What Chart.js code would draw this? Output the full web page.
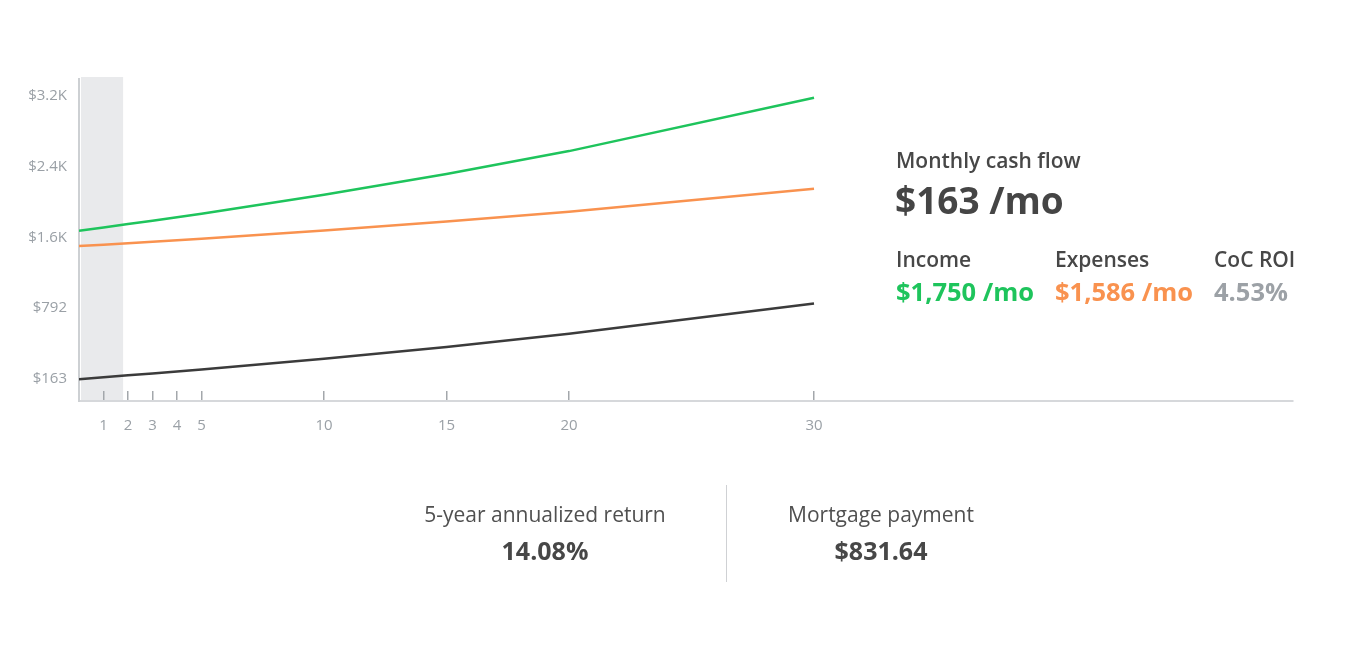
<!DOCTYPE html>
<html>
<head>
<meta charset="utf-8">
<script src="https://cdn.jsdelivr.net/npm/chart.js@4.4.1/dist/chart.umd.min.js"></script>
<style>
  html, body { margin: 0; padding: 0; background: #fff; }
  body { width: 1366px; height: 661px; position: relative; overflow: hidden; font-family: "Open Sans", sans-serif; color: #444; }
  #wrap { position: absolute; left: 0; top: 0; width: 1366px; height: 661px; }
  .t { position: absolute; white-space: nowrap; line-height: 1; }
  .lbl { font-size: 21px; font-weight: 600; color: #474747; }
  .val { font-size: 25.5px; font-weight: 700; }
  .c { transform: translateX(-50%); }
  #divider { position: absolute; left: 726px; top: 485px; width: 1px; height: 97px; background: #cfd1d4; }
</style>
</head>
<body>
<div id="wrap"><canvas id="graficoCashFlow" width="1366" height="661"></canvas></div>

<div class="t lbl" style="left:896px; top:150px;">Monthly cash flow</div>
<div class="t" style="left:895px; top:181px; font-size:37px; font-weight:700; color:#454545;">$163 /mo</div>

<div class="t lbl" style="left:896px; top:249px;">Income</div>
<div class="t lbl" style="left:1055px; top:249px;">Expenses</div>
<div class="t lbl" style="left:1214px; top:249px;">CoC ROI</div>
<div class="t val" style="left:896px; top:279px; color:#1ec45c;">$1,750 /mo</div>
<div class="t val" style="left:1055px; top:279px; color:#f9924f;">$1,586 /mo</div>
<div class="t val" style="left:1214px; top:279px; color:#9ca1a6;">4.53%</div>

<div class="t c" style="left:545px; top:504px; font-size:21px; color:#505050;">5-year annualized return</div>
<div class="t c" style="left:545px; top:538px; font-size:25px; font-weight:700; color:#474747;">14.08%</div>
<div id="divider"></div>
<div class="t c" style="left:881px; top:504px; font-size:21px; color:#505050;">Mortgage payment</div>
<div class="t c" style="left:881px; top:538px; font-size:25px; font-weight:700; color:#474747;">$831.64</div>

<script>
// Anos e valores mensais
const anos = [0, 1, 2, 3, 4, 5, 10, 15, 20, 30];
const income = [1750, 1785, 1821, 1857, 1894, 1932, 2133, 2355, 2600, 3170];
const expenses = [1586, 1601, 1616, 1632, 1648, 1665, 1751, 1847, 1952, 2198];
const cashFlow = [163, 184, 205, 225, 246, 267, 382, 508, 648, 972];

// Marcas do eixo X
const ticksX = [1, 2, 3, 4, 5, 10, 15, 20, 30];
// Eixo Y: posições e textos das etiquetas
const ticksYValores = [170, 925, 1680, 2435, 3190];
const ticksYLabels = ['$163', '$792', '$1.6K', '$2.4K', '$3.2K'];

// Faixa cinzenta do ano atual
const faixaDestaque = { inicio: 0, fim: 1.8 };

const pluginFaixa = {
  id: 'faixa',
  beforeDraw(chart) {
    const { ctx, chartArea, scales } = chart;
    const x0 = scales.x.getPixelForValue(faixaDestaque.inicio) + 2;
    const x1 = scales.x.getPixelForValue(faixaDestaque.fim);
    ctx.save();
    ctx.fillStyle = '#e9eaec';
    ctx.fillRect(x0, chartArea.top - 2, x1 - x0, chartArea.bottom - chartArea.top + 2);
    ctx.restore();
  }
};

function serie(valores) {
  return valores.map((v, i) => ({ x: anos[i], y: v }));
}

window.addEventListener('DOMContentLoaded', () => {
  const ctx = document.getElementById('graficoCashFlow').getContext('2d');

  new Chart(ctx, {
    type: 'line',
    data: {
      datasets: [
        { label: 'Income', data: serie(income), borderColor: '#1ec45c', borderWidth: 2.5 },
        { label: 'Expenses', data: serie(expenses), borderColor: '#f9924f', borderWidth: 2.5 },
        { label: 'Cash flow', data: serie(cashFlow), borderColor: '#3b3b3b', borderWidth: 2.5 }
      ]
    },
    options: {
      responsive: false,
      animation: false,
      events: [],
      layout: { padding: { top: 79, right: 73, left: 0, bottom: 220 } },
      elements: { point: { radius: 0 }, line: { tension: 0 } },
      plugins: { legend: { display: false }, tooltip: { enabled: false } },
      scales: {
        x: {
          type: 'linear',
          min: 0,
          max: 49.55,
          afterFit: s => { s.height = 40; },
          afterBuildTicks: s => { s.ticks = ticksX.map(v => ({ value: v })); },
          grid: { display: true, drawOnChartArea: false, drawTicks: true, tickLength: -10, color: '#a3a7ab', lineWidth: 1.5 },
          border: { display: true, color: '#d6d8db', width: 2 },
          ticks: { padding: 26, color: '#9aa0a6', font: { family: 'Open Sans', size: 15 }, maxRotation: 0, autoSkip: false }
        },
        y: {
          min: -69,
          max: 3370,
          afterFit: s => { s.width = 79; },
          afterBuildTicks: s => { s.ticks = ticksYValores.map(v => ({ value: v })); },
          grid: { display: false, drawTicks: false },
          border: { display: true, color: '#cdd0d3', width: 2 },
          ticks: {
            padding: 12,
            color: '#9aa0a6',
            font: { family: 'Open Sans', size: 15 },
            callback: (v, i) => ticksYLabels[i]
          }
        }
      }
    },
    plugins: [pluginFaixa]
  });
});
</script>
</body>
</html>
